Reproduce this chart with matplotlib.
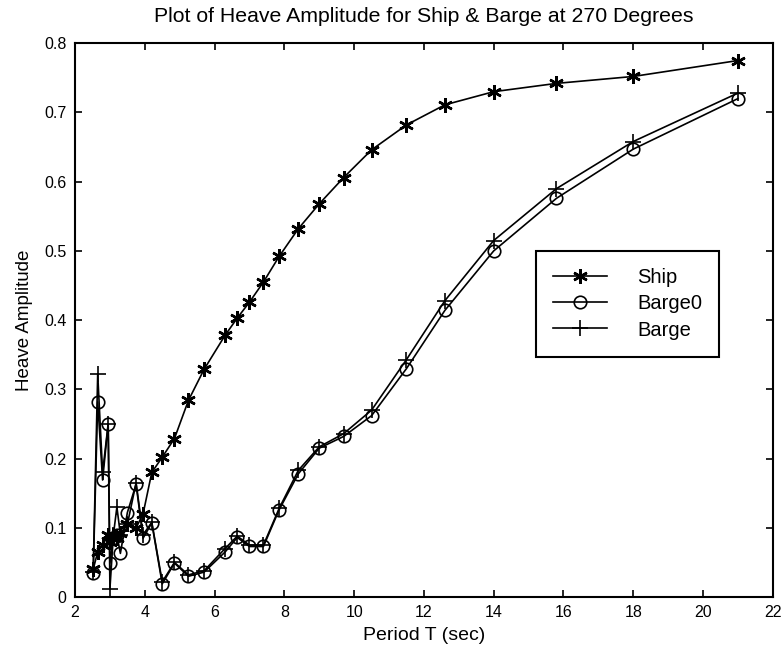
import matplotlib.pyplot as plt
import numpy as np

# Period (sec) shared by all three series
period = [2.52, 2.65, 2.79, 2.95, 3.0, 3.1, 3.2, 3.3, 3.5, 3.75, 3.95, 4.2,
          4.5, 4.85, 5.25, 5.7, 6.3, 6.65, 7.0, 7.4, 7.85, 8.4, 9.0, 9.7,
          10.5, 11.5, 12.6, 14.0, 15.8, 18.0, 21.0]

ship = [0.040, 0.065, 0.075, 0.090, 0.080, 0.090, 0.085, 0.092, 0.105, 0.100,
        0.120, 0.180, 0.202, 0.229, 0.284, 0.329, 0.378, 0.403, 0.426, 0.455,
        0.492, 0.532, 0.568, 0.606, 0.646, 0.682, 0.711, 0.730, 0.742, 0.752,
        0.775]

barge0 = [0.034, 0.282, 0.169, 0.250, 0.049, 0.085, 0.090, 0.063, 0.122, 0.163,
          0.085, 0.107, 0.019, 0.049, 0.030, 0.036, 0.065, 0.086, 0.073, 0.073,
          0.126, 0.178, 0.215, 0.232, 0.262, 0.330, 0.414, 0.500, 0.576, 0.647,
          0.720]

barge = [0.036, 0.322, 0.180, 0.250, 0.012, 0.090, 0.130, 0.090, 0.105, 0.165,
         0.090, 0.108, 0.022, 0.050, 0.032, 0.038, 0.070, 0.088, 0.075, 0.075,
         0.128, 0.183, 0.217, 0.236, 0.270, 0.343, 0.428, 0.515, 0.590, 0.658,
         0.728]

xticks = [2, 4, 6, 8, 10, 12, 14, 16, 18, 20, 22]
yticks = [0, 0.1, 0.2, 0.3, 0.4, 0.5, 0.6, 0.7, 0.8]
ytick_labels = ["0", "0.1", "0.2", "0.3", "0.4", "0.5", "0.6", "0.7", "0.8"]

plt.rcParams.update({
    "font.family": ["Liberation Sans", "DejaVu Sans"],
    "font.size": 11,
})

fig = plt.figure(figsize=(7.84, 6.55), dpi=100)
ax = fig.add_axes([0.0957, 0.0885, 0.890, 0.8455])

asterisk = (6, 2, 0)
lw = 1.2
ax.plot(period, ship, color="black", lw=lw, marker=asterisk, ms=10.5,
        mew=1.8, label="Ship")
ax.plot(period, barge0, color="black", lw=lw, marker="o", ms=9,
        mfc="none", mew=1.2, label="Barge0")
ax.plot(period, barge, color="black", lw=lw, marker="+", ms=11,
        mew=1.2, label="Barge")

ax.set_xlim(2, 22)
ax.set_ylim(0, 0.8)
ax.set_xticks(xticks)
ax.set_yticks(yticks)
ax.set_yticklabels(ytick_labels)
ax.tick_params(direction="in", top=True, right=True, length=5, width=1.2,
               labelsize=11.5, pad=6)
for s in ax.spines.values():
    s.set_linewidth(1.5)

ax.set_xlabel("Period T (sec)", fontsize=14, labelpad=5)
ax.set_ylabel("Heave Amplitude", fontsize=13.5, labelpad=8)
ax.set_title("Plot of Heave Amplitude for Ship & Barge at 270 Degrees",
             fontsize=15.3, pad=15)

leg = ax.legend(loc="upper left", bbox_to_anchor=(0.66, 0.625),
                fontsize=14.5, frameon=True, fancybox=False, edgecolor="black",
                framealpha=1, handlelength=2.7, handletextpad=1.5,
                labelspacing=0.36, borderpad=0.85, borderaxespad=0)
leg.get_frame().set_linewidth(1.5)

fig.savefig("out.png", dpi=100)
